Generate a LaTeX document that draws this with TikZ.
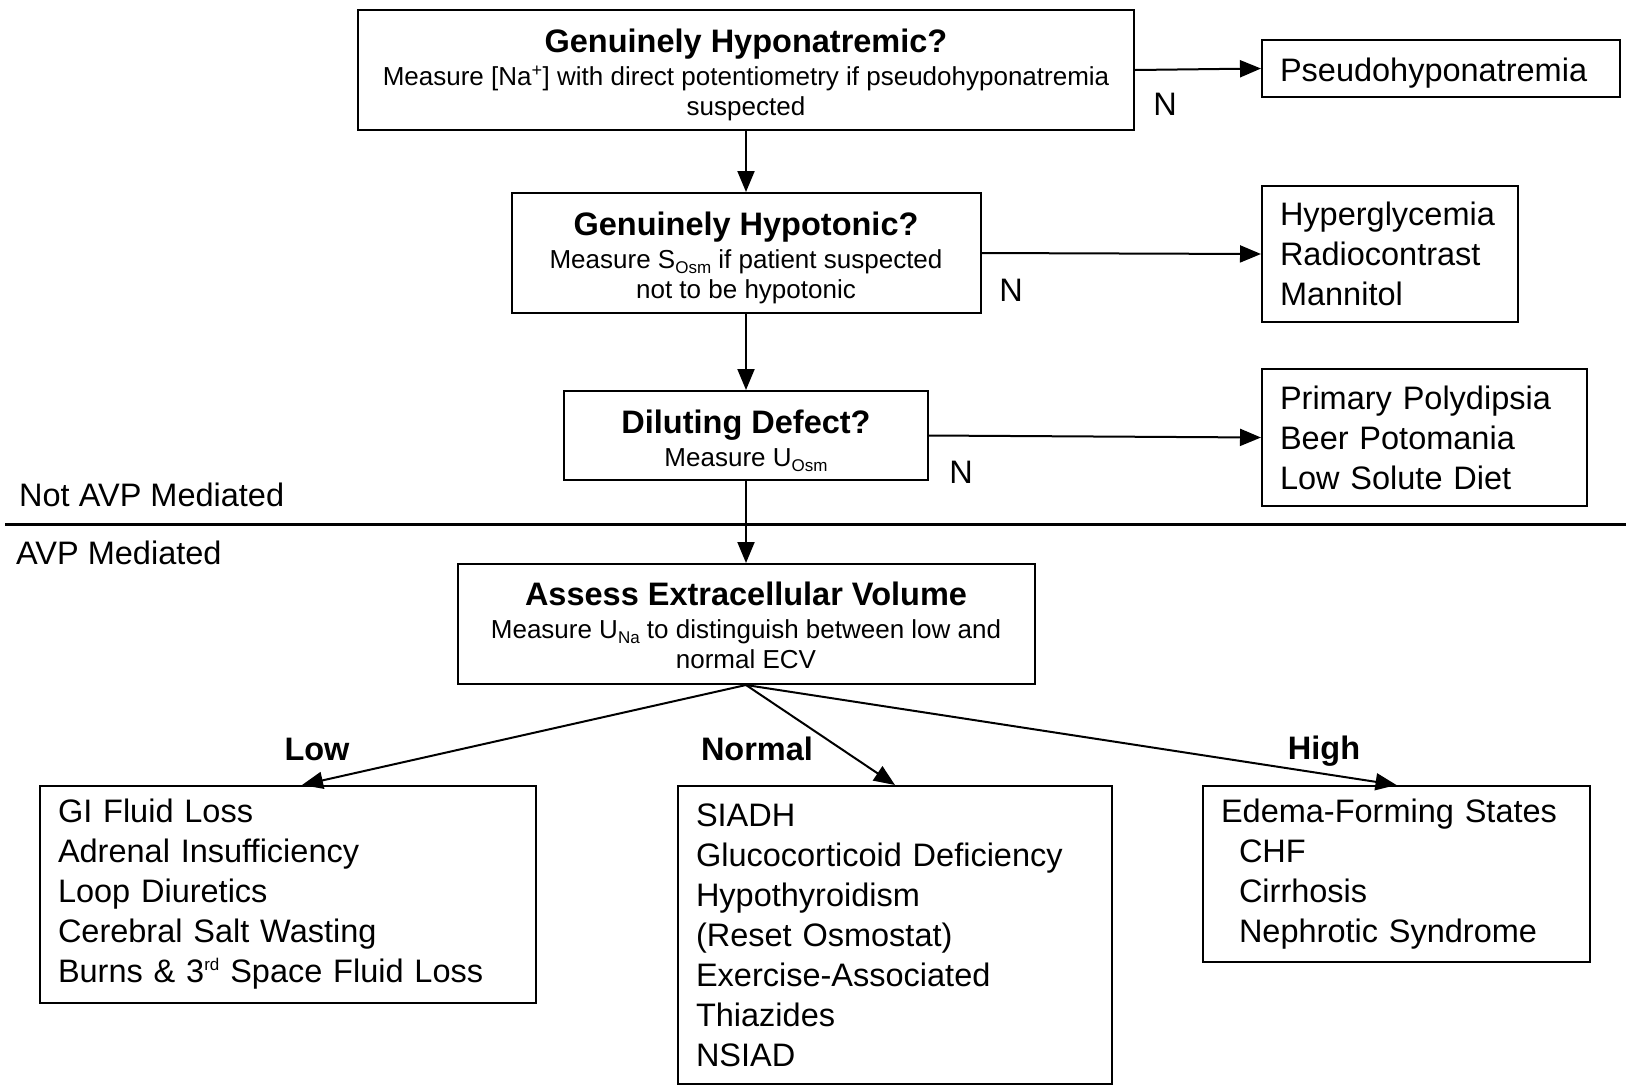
\documentclass[tikz,border=0pt]{standalone}
\usepackage{fontspec}
\setmainfont{Liberation Sans}
\usetikzlibrary{arrows.meta,calc}
\newcommand{\lowtxt}[1]{\raisebox{-0.35ex}{\fontsize{17}{17}\selectfont #1}}
\newcommand{\hightxt}[1]{\raisebox{0.75ex}{\fontsize{17}{17}\selectfont #1}}
\newcommand{\ttlfont}{\fontsize{32.5}{39}\selectfont\bfseries}
\begin{document}
\begin{tikzpicture}[x=1pt,y=-1pt,
 box/.style={draw, line width=2pt, inner sep=0pt, align=center, font=\fontsize{26}{30}\selectfont},
 lst/.style={draw, line width=2pt, inner xsep=18pt, inner ysep=0pt, align=left, anchor=north west, font=\fontsize{32.5}{40}\selectfont},
 arr/.style={line width=2pt, -{Triangle[length=21pt,width=17pt]}},
 lbl/.style={font=\fontsize{32.5}{39}\selectfont, inner sep=0pt},
 blbl/.style={font=\ttlfont, inner sep=0pt},
]
\useasboundingbox[fill=white] (0,0) rectangle (1626,1088);

% question boxes
\node[box, minimum width=776pt, minimum height=120pt] (b1) at (746,70)
  {{\ttlfont\rule{0pt}{33pt}Genuinely Hyponatremic?}\\[3pt]Measure [Na\textsuperscript{+}] with direct potentiometry if pseudohyponatremia\\suspected};
\node[box, minimum width=469pt, minimum height=120pt] (b2) at (746,253)
  {{\ttlfont\rule{0pt}{33pt}Genuinely Hypotonic?}\\[3pt]Measure S\lowtxt{Osm} if patient suspected\\not to be hypotonic};
\node[box, minimum width=364pt, minimum height=89pt] (b3) at (746,435.5)
  {{\ttlfont\rule{0pt}{34pt}Diluting Defect?}\\[3pt]Measure U\lowtxt{Osm}};
\node[box, minimum width=577pt, minimum height=120pt] (b4) at (746,624)
  {{\ttlfont\rule{0pt}{27pt}Assess Extracellular Volume}\\[3pt]Measure U\lowtxt{Na} to distinguish between low and\\normal ECV};

% right-hand result boxes
\node[lst, text width=322pt, minimum height=57pt] (r1) at (1261,39) {\rule{0pt}{32pt}Pseudohyponatremia};
\node[lst, text width=220pt, minimum height=136pt] (r2) at (1261,185) {Hyperglycemia\\Radiocontrast\\Mannitol};
\node[lst, text width=289pt, minimum height=137pt] (r3) at (1261,368) {Primary Polydipsia\\Beer Potomania\\Low Solute Diet};

% bottom result boxes
\node[lst, text width=460pt, minimum height=217pt] (low) at (39,785)
  {GI Fluid Loss\\Adrenal Insufficiency\\Loop Diuretics\\Cerebral Salt Wasting\\Burns \& 3\hightxt{rd} Space Fluid Loss};
\node[lst, text width=398pt, minimum height=298pt] (norm) at (677,785)
  {SIADH\\Glucocorticoid Deficiency\\Hypothyroidism\\(Reset Osmostat)\\Exercise-Associated\\Thiazides\\NSIAD};
\node[lst, text width=351pt, minimum height=176pt] (high) at (1202,785)
  {Edema-Forming States\\\hspace*{18pt}CHF\\\hspace*{18pt}Cirrhosis\\\hspace*{18pt}Nephrotic Syndrome};

% separator
\draw[line width=3pt] (5,524) -- (1626,524);
\node[lbl, anchor=west] (notavp) at (19,495) {Not AVP Mediated};
\node[lbl, anchor=west] (avp) at (16,553) {AVP Mediated};

% connectors
\draw[arr] (b1) -- (b2);
\draw[arr] (b2) -- (b3);
\draw[arr] (b3) -- (b4);
\draw[arr] (b1.east) -- (r1.west);
\draw[arr] (b2.east) -- (r2.west);
\draw[arr] (b3.east) -- (r3.west);
\draw[arr] (b4.south) -- ([xshift=14pt]low.north);
\draw[arr] (b4.south) -- (norm.north);
\draw[arr] (b4.south) -- (high.north);

% labels
\node[lbl] (n1) at (1165,104) {N};
\node[lbl] (n2) at (1011,290) {N};
\node[lbl] (n3) at (961,472) {N};
\node[blbl] (llow) at (317,749) {Low};
\node[blbl] (lnorm) at (757,749) {Normal};
\node[blbl] (lhigh) at (1324,751) {High};
\end{tikzpicture}
\end{document}
